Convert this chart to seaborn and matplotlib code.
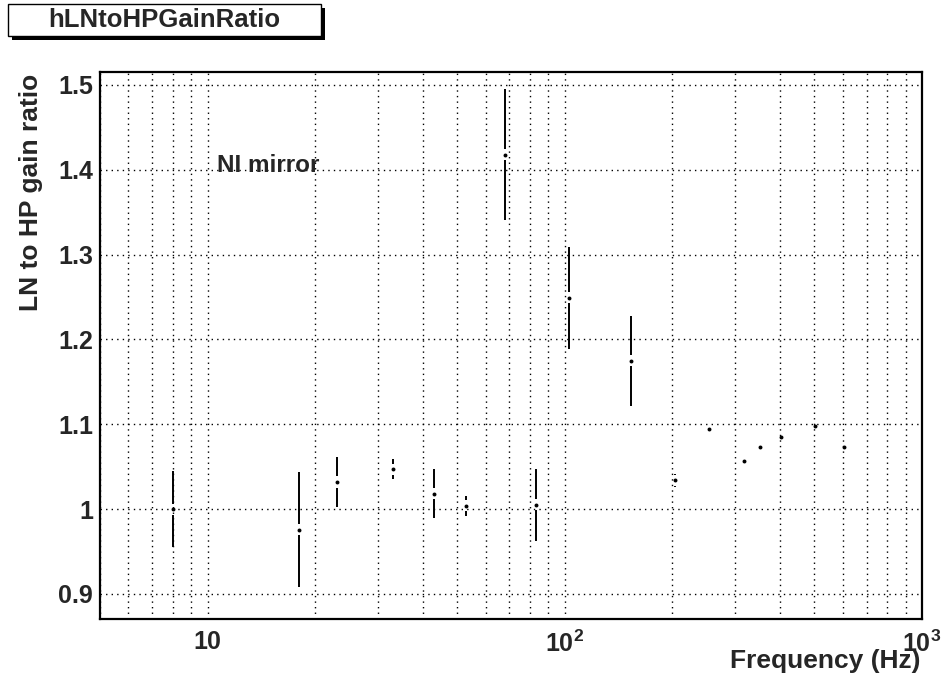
import numpy as np
import matplotlib
matplotlib.use("Agg")
import matplotlib.pyplot as plt
from matplotlib.patches import Rectangle
from matplotlib.ticker import FixedLocator, LogLocator, NullFormatter, MultipleLocator, FixedFormatter
import seaborn as sns

# Measured LN/HP gain ratio per injection frequency
freq = [8, 18, 23, 33, 43, 53, 68, 83, 103, 153, 203, 253, 318, 353, 403, 503, 603]
ratio = [1.000, 0.976, 1.032, 1.047, 1.018, 1.004, 1.418, 1.005, 1.249, 1.175,
         1.034, 1.094, 1.057, 1.073, 1.085, 1.098, 1.073]
ratio_err = [0.045, 0.068, 0.030, 0.012, 0.029, 0.012, 0.0775, 0.042, 0.060, 0.053,
             0.008, 0.001, 0.001, 0.001, 0.001, 0.001, 0.001]

x_ticks = [10, 100, 1000]
x_ticklabels = ["10", r"$\mathbf{10^{2}}$", r"$\mathbf{10^{3}}$"]
y_ticks = [0.9, 1.0, 1.1, 1.2, 1.3, 1.4, 1.5]
y_ticklabels = ["0.9", "1", "1.1", "1.2", "1.3", "1.4", "1.5"]

sns.set_style("white")
plt.rcParams["font.family"] = ["Liberation Sans", "DejaVu Sans"]
plt.rcParams["font.weight"] = "bold"
plt.rcParams["mathtext.fontset"] = "custom"
plt.rcParams["mathtext.rm"] = "Liberation Sans:bold"
plt.rcParams["mathtext.bf"] = "Liberation Sans:bold"
plt.rcParams["mathtext.it"] = "Liberation Sans:bold"

W, H = 944, 678
fig = plt.figure(figsize=(W / 100, H / 100), dpi=100)
fig.patch.set_facecolor("white")
left, right, top, bottom = 100, 922, 72, 619
ax = fig.add_axes([left / W, 1 - bottom / H, (right - left) / W, (bottom - top) / H])
ax.set_facecolor("white")

ax.set_xscale("log")
ax.set_xlim(5, 1000)
ax.set_ylim(0.8705, 1.5153)

# Grid: every decade sub-division along x, major values along y
dotted = (0, (1, 3))
ax.xaxis.set_major_locator(FixedLocator(x_ticks))
ax.xaxis.set_major_formatter(FixedFormatter(x_ticklabels))
ax.xaxis.set_minor_locator(LogLocator(base=10, subs=np.arange(2, 10)))
ax.xaxis.set_minor_formatter(NullFormatter())
ax.yaxis.set_major_locator(FixedLocator(y_ticks))
ax.yaxis.set_major_formatter(FixedFormatter(y_ticklabels))
ax.yaxis.set_minor_locator(MultipleLocator(0.02))
ax.grid(True, which="both", axis="x", color="black", linestyle=dotted, linewidth=1.0)
ax.grid(True, which="major", axis="y", color="black", linestyle=dotted, linewidth=1.0)
ax.set_axisbelow(True)

ax.tick_params(axis="both", which="both", direction="in", color="black",
               top=False, right=False)
ax.tick_params(axis="y", which="major", length=16.5, width=1.0, pad=5, labelsize=18)
ax.tick_params(axis="y", which="minor", length=8.5, width=1.0)
ax.tick_params(axis="x", which="major", length=12, width=1.0, pad=8, labelsize=18)
ax.tick_params(axis="x", which="minor", length=6.5, width=1.0)
for lab in ax.get_xticklabels() + ax.get_yticklabels():
    lab.set_fontweight("bold")

for s in ax.spines.values():
    s.set_color("black")
    s.set_linewidth(1.6)
    s.set_visible(True)

# Error bars with a small gap around each marker
gap = 0.0065
for f, v, e in zip(freq, ratio, ratio_err):
    if e > gap:
        ax.vlines(f, v + gap, v + e, color="black", linewidth=1.4, zorder=3)
        ax.vlines(f, v - e, v - gap, color="black", linewidth=1.4, zorder=3)

sns.scatterplot(x=freq, y=ratio, ax=ax, color="black", s=8, linewidth=0, zorder=4)
ax.set_xlabel("")
ax.set_ylabel("")

ax.text(10.6, 1.405, "NI mirror", fontsize=17.5, fontweight="bold", va="center", ha="left")

fig.text(31 / W, 1 - 74 / H, "LN to HP gain ratio", rotation=90, ha="center", va="top",
         fontsize=19, fontweight="bold")
fig.text(920 / W, 1 - 661 / H, "Frequency (Hz)", ha="right", va="center",
         fontsize=19, fontweight="bold")

# Histogram name box with drop shadow
bx0, by0, bx1, by1 = 8, 4, 321, 36
fig.patches.append(Rectangle(((bx0 + 4) / W, 1 - (by1 + 4) / H), (bx1 - bx0) / W, (by1 - by0) / H,
                             transform=fig.transFigure, facecolor="black", edgecolor="none", zorder=1))
fig.patches.append(Rectangle((bx0 / W, 1 - by1 / H), (bx1 - bx0) / W, (by1 - by0) / H,
                             transform=fig.transFigure, facecolor="white", edgecolor="black",
                             linewidth=1.0, zorder=2))
fig.text((bx0 + bx1) / 2 / W, 1 - (by0 + by1) / 2 / H, "hLNtoHPGainRatio", ha="center", va="center",
         fontsize=18.5, fontweight="bold", zorder=3)

fig.savefig("out.png", dpi=100, facecolor="white")
